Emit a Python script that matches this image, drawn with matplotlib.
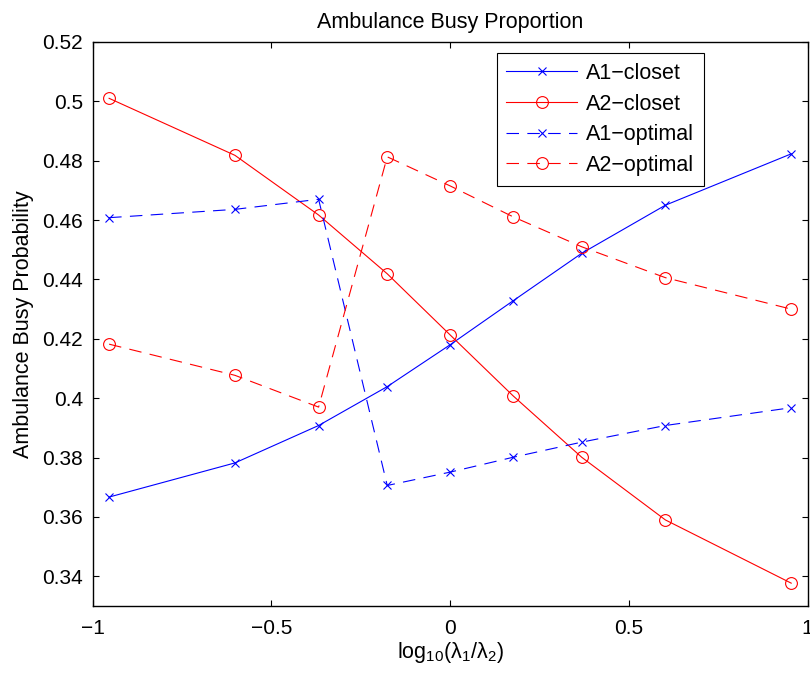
import matplotlib
matplotlib.use('Agg')
import matplotlib.pyplot as plt

plt.rcParams['font.family'] = ['Liberation Sans', 'DejaVu Sans']
plt.rcParams['mathtext.default'] = 'regular'
plt.rcParams['lines.scale_dashes'] = False

# log10(lambda1/lambda2) positions
x = [-0.954, -0.602, -0.368, -0.176, 0.0, 0.176, 0.368, 0.602, 0.954]

a1_closet = [0.3667, 0.3782, 0.3908, 0.4039, 0.4180, 0.4328, 0.4488, 0.4650, 0.4823]
a2_closet = [0.5010, 0.4818, 0.4617, 0.4419, 0.4213, 0.4008, 0.3801, 0.3590, 0.3377]
a1_optimal = [0.4608, 0.4636, 0.4670, 0.3706, 0.3751, 0.3801, 0.3852, 0.3908, 0.3968]
a2_optimal = [0.4182, 0.4077, 0.3970, 0.4813, 0.4715, 0.4611, 0.4510, 0.4406, 0.4300]

xticks = [-1, -0.5, 0, 0.5, 1]
xticklabels = ['\u22121', '\u22120.5', '0', '0.5', '1']
yticks = [0.34, 0.36, 0.38, 0.40, 0.42, 0.44, 0.46, 0.48, 0.50, 0.52]
yticklabels = ['0.34', '0.36', '0.38', '0.4', '0.42', '0.44', '0.46', '0.48', '0.5', '0.52']

fig = plt.figure(figsize=(8.1, 6.75), dpi=100)
ax = fig.add_axes([0.1144, 0.1022, 0.8827, 0.8357])

lw = 0.8
dash = (0, (9, 6))
ax.plot(x, a1_closet, color='b', lw=lw, marker='x', ms=6, mew=0.8, label='A1\u2212closet')
ax.plot(x, a2_closet, color='r', lw=lw, marker='o', ms=8.5, mew=0.8, mfc='none', label='A2\u2212closet')
ax.plot(x, a1_optimal, color='b', lw=lw, ls=dash, marker='x', ms=6, mew=0.8, label='A1\u2212optimal')
ax.plot(x, a2_optimal, color='r', lw=lw, ls=dash, marker='o', ms=8.5, mew=0.8, mfc='none', label='A2\u2212optimal')

ax.set_xlim(-1, 1)
ax.set_ylim(0.33, 0.52)
ax.set_xticks(xticks)
ax.set_xticklabels(xticklabels)
ax.set_yticks(yticks)
ax.set_yticklabels(yticklabels)
ax.tick_params(direction='in', length=4.3, width=0.8, top=True, right=True, labelsize=15, pad=7)
ax.tick_params(axis='x', pad=9)
for s in ax.spines.values():
    s.set_linewidth(1.0)

ax.set_title('Ambulance Busy Proportion', fontsize=15.5, pad=10)
ax.set_xlabel(r'log$_{10}$($\lambda_1$/$\lambda_2$)', fontsize=15.5, labelpad=2)
ax.set_ylabel('Ambulance Busy Probability', fontsize=15.5, labelpad=6)

leg = ax.legend(loc='upper left', bbox_to_anchor=(0.565, 0.98), fontsize=15.5,
                fancybox=False, framealpha=1, edgecolor='k', numpoints=1,
                handlelength=3.3, handletextpad=0.4, labelspacing=0.45,
                borderpad=0.45, borderaxespad=0)
leg.get_frame().set_linewidth(0.8)

fig.savefig('out.png', dpi=100)
